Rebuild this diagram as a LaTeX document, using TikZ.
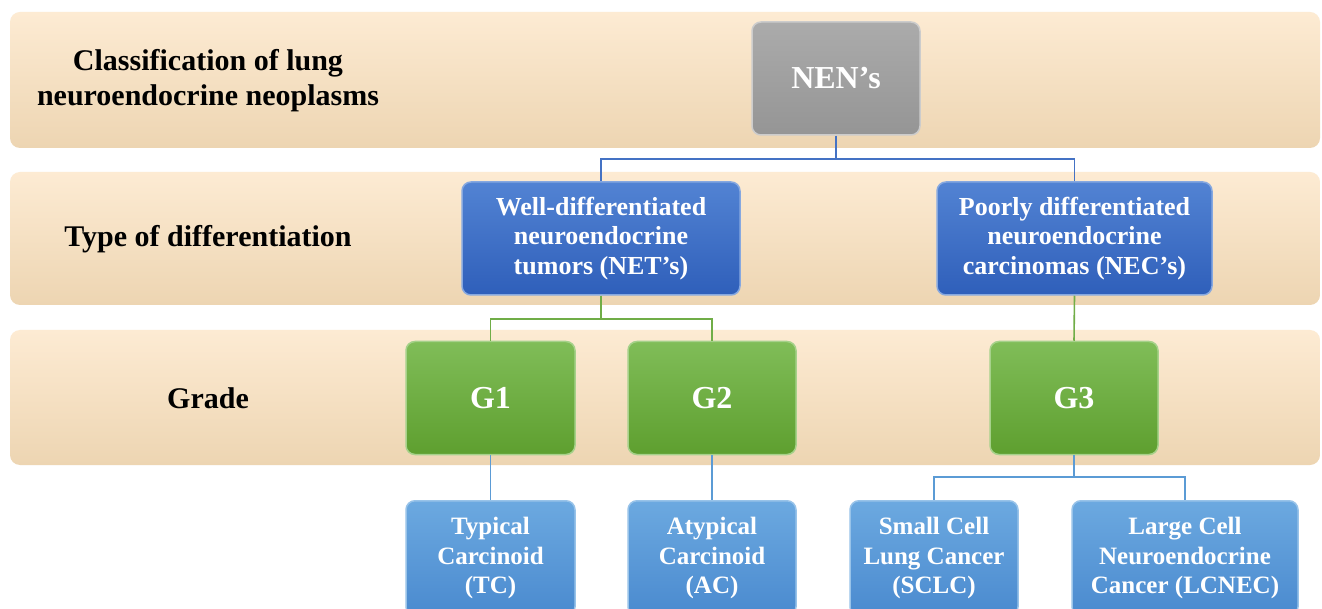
\documentclass[tikz,border=0pt]{standalone}
\usepackage{fontspec}
\setmainfont{Liberation Serif}
\usetikzlibrary{shadows}
\definecolor{bandtop}{HTML}{FDEBD3}
\definecolor{bandbot}{HTML}{EDD5B2}
\definecolor{graytop}{HTML}{ABABAB}
\definecolor{graybot}{HTML}{959595}
\definecolor{bluetop}{HTML}{5283D3}
\definecolor{bluebot}{HTML}{2F5FBA}
\definecolor{blueline}{HTML}{4472C4}
\definecolor{greentop}{HTML}{80BD58}
\definecolor{greenbot}{HTML}{5E9F2F}
\definecolor{greenline}{HTML}{70AD47}
\definecolor{lbluetop}{HTML}{6CA9E0}
\definecolor{lbluebot}{HTML}{4A8ACF}
\definecolor{lblueline}{HTML}{5B9BD5}
\tikzset{
  band/.style={rounded corners=10pt, top color=bandtop, bottom color=bandbot, draw=none},
  lbl/.style={font=\fontsize{30}{35}\selectfont\bfseries, align=center, text=black},
  boxbase/.style={rounded corners=9pt, text=white, align=center, line width=1.5pt,
     minimum height=113pt, inner sep=2pt},
  graybox/.style={boxbase, top color=graytop, bottom color=graybot, draw=gray!40!white,
     font=\fontsize{32}{36}\selectfont\bfseries},
  bluebox/.style={boxbase, top color=bluetop, bottom color=bluebot, draw=bluetop!70!white,
     font=\fontsize{26}{29.5}\selectfont\bfseries},
  greenbox/.style={boxbase, top color=greentop, bottom color=greenbot, draw=greentop!70!white,
     font=\fontsize{32}{36}\selectfont\bfseries},
  lbluebox/.style={boxbase, top color=lbluetop, bottom color=lbluebot, draw=lbluetop!70!white,
     font=\fontsize{25}{29.5}\selectfont\bfseries, minimum height=115pt},
  conn/.style={line width=1.6pt}
}
\begin{document}
\begin{tikzpicture}[x=1pt,y=-1pt]
\useasboundingbox (0,0) rectangle (1322,609);
\clip (0,0) rectangle (1322,609);
\fill[white] (0,0) rectangle (1322,609);
% bands
\path[band] (10,12) rectangle (1320,148);
\path[band] (10,172) rectangle (1320,305);
\path[band] (10,330) rectangle (1320,465);
% row labels
\node[lbl] (l1) at (208,81) {Classification of lung\\neuroendocrine neoplasms};
\node[lbl] (l2) at (208,239) {Type of differentiation};
\node[lbl] (l3) at (208,398) {Grade};
% boxes
\node[graybox, minimum width=168pt] (nen) at (836,78.5) {NEN’s};
\node[bluebox, minimum width=278pt] (net) at (601,238.5) {Well-differentiated\\neuroendocrine\\tumors (NET’s)};
\node[bluebox, minimum width=275pt] (nec) at (1074.5,238.5) {Poorly differentiated\\neuroendocrine\\carcinomas (NEC’s)};
\node[greenbox, minimum width=169pt] (g1) at (490.5,398) {G1};
\node[greenbox, minimum width=168pt] (g2) at (712,398) {G2};
\node[greenbox, minimum width=168pt] (g3) at (1074,398) {G3};
\node[lbluebox, minimum width=169pt, anchor=north] (tc) at (490.5,500) {Typical\\Carcinoid\\(TC)};
\node[lbluebox, minimum width=168pt, anchor=north] (ac) at (712,500) {Atypical\\Carcinoid\\(AC)};
\node[lbluebox, minimum width=168pt, anchor=north] (sclc) at (934,500) {Small Cell\\Lung Cancer\\(SCLC)};
\node[lbluebox, minimum width=226pt, anchor=north] (lcnec) at (1185,500) {Large Cell\\Neuroendocrine\\Cancer (LCNEC)};
% connectors
\draw[conn, blueline] (nen.south) -- ++(0,23) -| (net.north);
\draw[conn, blueline] (nen.south) ++(0,23) -| (nec.north);
\draw[conn, greenline] (net.south) -- ++(0,23) -| (g1.north);
\draw[conn, greenline] (net.south) ++(0,23) -| (g2.north);
\draw[conn, greenline] (nec.south) -- (g3.north);
\draw[conn, lblueline] (g1.south) -- (tc.north);
\draw[conn, lblueline] (g2.south) -- (ac.north);
\draw[conn, lblueline] (g3.south) -- ++(0,22) -| (sclc.north);
\draw[conn, lblueline] (g3.south) ++(0,22) -| (lcnec.north);
\end{tikzpicture}
\end{document}
